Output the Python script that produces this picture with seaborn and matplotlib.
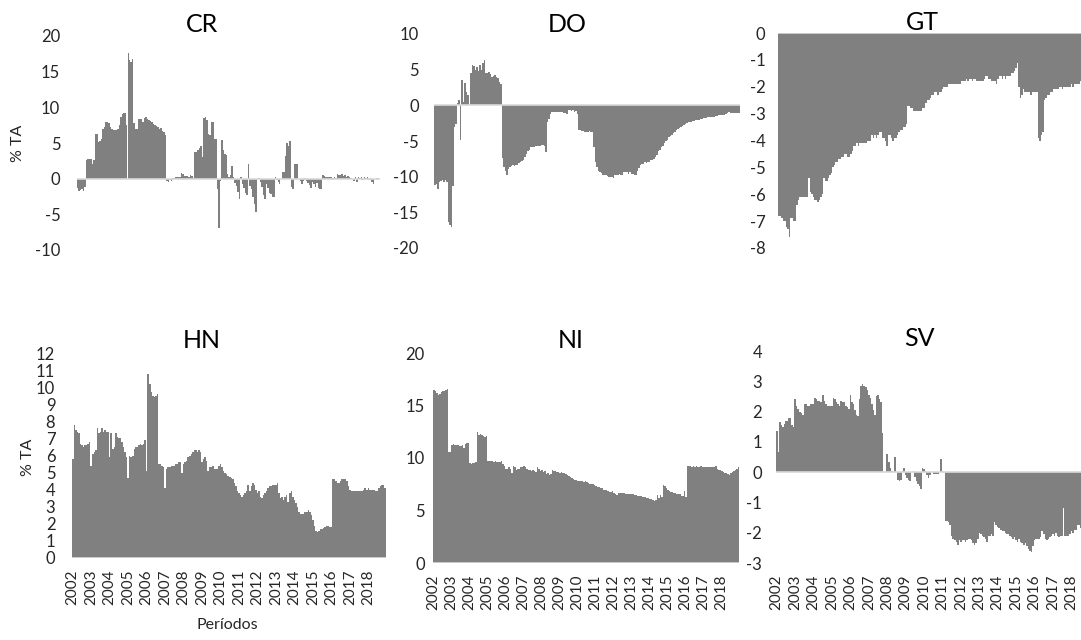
import numpy as np
import matplotlib
matplotlib.use("Agg")
from matplotlib import pyplot as plt
import seaborn as sns

# monthly series 2002m1 - 2018m12, % TA (one row per year)
cr = [-1.3,-1.7,-1.6,-1.5,-1.7,-1.2,2.6,2.8,2.8,2.8,2.0,2.6,
      6.3,6.3,5.2,5.3,5.6,7.0,7.3,8.0,8.0,7.8,7.3,7.0,
      6.8,6.8,6.8,6.9,7.5,8.7,9.1,9.2,9.2,7.5,17.6,16.6,
      16.4,16.8,7.8,7.0,7.0,8.4,8.3,8.3,8.0,8.5,8.6,8.4,
      8.2,8.1,7.9,7.6,7.5,7.4,7.2,7.0,7.1,6.7,6.5,6.1,
      -0.3,-0.4,-0.2,-0.3,0.1,0.1,0.2,0.2,0.2,0.3,0.8,0.6,
      0.4,0.4,0.4,0.3,0.5,0.4,0.1,3.8,3.8,4.0,4.3,4.6,
      3.0,8.5,8.6,8.2,6.3,6.1,8.0,8.0,5.6,5.6,-1.4,-6.9,
      -0.3,5.4,4.0,3.5,3.3,0.7,0.3,0.5,1.8,0.2,-0.6,-1.0,
      -1.8,-2.8,0.2,-0.8,-1.3,-2.0,-2.3,2.1,-1.0,-1.5,-2.5,-3.5,
      -4.7,0.0,0.1,-0.5,-1.2,-2.3,-2.8,-0.8,-1.3,-2.0,-2.2,-2.6,
      -2.5,0.3,-0.2,-0.4,-0.8,0.0,0.9,1.0,3.2,5.0,4.6,5.3,
      -1.2,-1.5,2.1,2.0,2.0,0.0,-0.3,-0.7,-0.3,0.1,-0.3,-0.6,
      -0.9,-1.3,-0.4,-0.8,-1.2,-0.6,-1.3,-1.5,-1.4,0.5,0.4,0.3,
      0.3,0.2,0.3,0.2,0.1,0.2,0.1,0.6,0.5,0.5,0.6,0.4,
      0.5,0.3,0.4,0.2,0.1,0.0,-0.3,0.2,-0.4,0.3,0.1,0.2,
      -0.2,0.2,0.1,0.3,-0.2,0.1,-0.5,-0.8,0.0,0.1,0.1,0.0]

do = [-11.2,-11.0,-11.7,-10.8,-10.6,-10.5,-10.7,-10.5,-10.8,-16.4,-16.8,-17.0,
      -11.3,-3.0,-2.6,0.3,0.7,-4.8,3.6,0.4,3.1,1.8,1.5,0.1,
      4.5,5.7,5.5,5.0,5.4,4.8,5.6,4.9,5.9,6.3,4.5,4.6,
      4.7,4.4,4.0,4.1,4.2,4.0,3.9,3.3,3.0,-7.4,-8.6,-9.2,
      -9.8,-8.9,-8.6,-8.5,-8.4,-8.5,-8.3,-8.4,-8.1,-8.0,-7.8,-7.6,
      -7.2,-6.8,-6.4,-6.2,-5.9,-5.8,-5.8,-5.7,-5.7,-5.7,-5.7,-5.6,
      -5.6,-5.7,-6.5,-2.3,-1.9,-1.2,-1.0,-0.9,-0.9,-1.0,-0.9,-1.0,
      -0.9,-1.0,-1.1,-1.1,-1.2,-0.6,-0.7,-0.8,-0.7,-0.9,-0.8,-1.2,
      -3.4,-3.5,-3.6,-3.6,-3.7,-3.7,-3.8,-3.6,-3.8,-3.7,-5.8,-7.9,
      -8.6,-9.2,-9.4,-9.5,-9.7,-9.8,-9.8,-9.9,-10.0,-10.0,-10.1,-10.2,
      -9.8,-9.7,-9.8,-9.6,-9.7,-9.7,-9.4,-9.3,-9.4,-9.6,-9.3,-9.6,
      -9.6,-9.7,-9.8,-9.2,-8.8,-8.3,-8.2,-8.2,-8.0,-8.1,-8.0,-7.9,
      -7.7,-7.6,-7.5,-7.3,-6.9,-6.4,-6.2,-5.9,-5.7,-5.3,-5.0,-4.8,
      -4.5,-4.3,-4.1,-3.9,-3.7,-3.5,-3.3,-3.2,-3.0,-2.9,-2.8,-2.6,
      -2.5,-2.4,-2.4,-2.3,-2.2,-2.2,-2.1,-2.0,-2.0,-1.9,-1.9,-1.8,
      -1.8,-1.8,-1.7,-1.7,-1.6,-1.6,-1.6,-1.5,-1.5,-1.4,-1.4,-1.4,
      -1.3,-1.3,-1.2,-1.1,-1.0,-1.1,-1.1,-1.1,-1.1,-1.1,-1.1,-1.1]

gt = [-6.8,-6.8,-6.9,-7.0,-7.0,-7.2,-7.3,-7.6,-6.9,-6.9,-7.0,-7.0,
      -6.4,-6.2,-6.1,-6.1,-6.1,-6.1,-6.1,-6.1,-5.4,-5.9,-6.0,-6.1,
      -6.2,-6.2,-6.3,-6.2,-6.1,-6.0,-5.4,-5.5,-5.5,-5.4,-5.3,-5.2,
      -5.0,-4.9,-4.8,-4.8,-4.7,-4.7,-4.6,-4.6,-4.5,-4.5,-4.6,-4.6,
      -4.5,-4.4,-4.2,-4.2,-4.1,-4.2,-4.1,-4.1,-4.1,-4.1,-4.1,-4.0,
      -4.0,-4.0,-3.8,-3.9,-3.8,-3.9,-3.8,-3.7,-3.7,-3.9,-3.9,-4.0,
      -4.2,-3.8,-3.8,-3.9,-4.0,-3.9,-3.9,-3.8,-3.7,-3.6,-3.6,-3.5,
      -3.5,-3.4,-2.7,-2.7,-2.8,-2.8,-2.9,-2.9,-2.9,-2.9,-2.9,-2.9,
      -2.8,-2.8,-2.6,-2.5,-2.5,-2.4,-2.3,-2.3,-2.2,-2.2,-2.3,-2.2,
      -2.2,-2.1,-2.0,-2.0,-2.0,-1.9,-1.9,-1.9,-1.9,-1.9,-1.9,-1.9,
      -1.9,-1.9,-1.8,-1.8,-1.8,-1.7,-1.8,-1.7,-1.7,-1.8,-1.7,-1.7,
      -1.8,-1.8,-1.8,-1.8,-1.8,-1.7,-1.6,-1.6,-1.7,-1.7,-1.8,-1.8,
      -1.8,-1.9,-1.7,-1.6,-1.6,-1.7,-1.6,-1.7,-1.6,-1.6,-1.6,-1.5,
      -1.5,-1.4,-1.3,-1.1,-2.0,-2.4,-2.3,-2.1,-2.2,-2.2,-2.2,-2.2,
      -2.3,-2.2,-2.2,-2.2,-2.2,-3.9,-4.0,-3.8,-3.7,-2.5,-2.4,-2.3,
      -2.3,-2.2,-2.2,-2.1,-2.1,-2.1,-2.1,-2.0,-2.0,-2.1,-2.0,-2.0,
      -2.0,-2.0,-2.0,-1.9,-2.0,-1.9,-1.9,-1.9,-1.9,-1.8,-1.8,-1.8]

hn = [5.8,7.8,7.5,7.4,7.3,6.7,6.6,6.5,6.6,6.6,6.7,6.8,
      5.4,6.1,6.2,6.3,7.6,7.3,7.4,7.6,7.4,7.5,7.4,7.4,
      5.9,7.3,6.4,6.5,7.3,7.1,7.0,7.0,6.8,6.5,6.2,5.9,
      4.7,6.0,5.9,6.0,6.4,6.5,6.5,6.6,6.7,6.6,6.7,6.9,
      5.1,10.8,10.2,9.7,9.5,9.4,9.5,9.6,5.5,5.5,5.4,5.3,
      4.1,5.2,5.3,5.3,5.4,5.4,5.4,5.5,5.5,5.6,5.6,5.0,
      5.5,5.6,5.7,5.9,6.0,6.1,6.2,6.3,6.3,6.2,6.3,6.2,
      5.6,5.8,5.9,5.7,5.1,5.3,5.3,5.4,5.2,5.2,5.2,5.4,
      5.5,5.3,5.1,5.0,4.9,4.8,4.75,4.7,4.6,4.4,4.2,3.9,
      3.8,3.7,3.6,3.7,3.8,3.9,4.3,3.9,4.2,4.4,4.3,4.0,
      3.8,3.9,3.6,3.5,3.7,3.8,3.9,4.1,4.2,4.2,4.3,4.3,
      4.3,4.4,3.8,3.5,3.6,3.4,3.6,3.7,3.3,3.8,3.9,3.6,
      3.4,3.2,3.0,2.7,2.6,2.6,2.6,2.7,2.7,2.8,2.7,2.5,
      2.2,1.9,1.6,1.55,1.6,1.7,1.7,1.75,1.8,1.9,1.85,1.8,
      1.8,4.6,4.6,4.5,4.4,4.4,4.5,4.6,4.6,4.6,4.5,4.2,
      4.0,3.9,3.9,3.9,3.9,3.9,3.9,3.9,3.9,4.0,4.1,4.0,
      4.1,4.0,4.0,4.0,4.0,3.9,3.9,4.1,4.2,4.3,4.3,4.1]

ni = [16.5,16.4,16.2,16.0,16.1,16.3,16.4,16.4,16.5,16.6,10.6,10.6,
      11.2,11.3,11.2,11.2,11.2,11.1,11.1,11.2,11.0,11.3,11.4,11.4,
      9.5,9.4,9.5,9.5,9.6,12.5,12.2,12.3,12.2,12.1,12.0,12.1,
      9.7,9.7,9.7,9.7,9.6,9.7,9.6,9.6,9.6,9.7,9.4,9.2,
      9.0,9.0,9.1,9.0,8.6,9.2,9.1,8.9,9.0,9.0,9.1,9.1,
      9.2,9.1,9.0,8.9,8.9,8.8,8.9,8.8,8.7,9.1,9.0,8.8,
      8.9,8.7,8.8,8.5,8.6,8.4,8.5,8.9,8.8,8.8,8.7,8.7,
      8.6,8.7,8.6,8.6,8.5,8.4,8.3,8.2,8.1,8.0,7.9,7.9,
      7.8,7.8,7.8,7.8,7.7,7.8,7.7,7.6,7.5,7.5,7.5,7.4,
      7.3,7.2,7.2,7.1,7.1,7.0,7.0,7.0,6.9,6.8,6.8,6.9,
      6.7,6.6,6.5,6.7,6.7,6.7,6.7,6.65,6.6,6.6,6.6,6.6,
      6.6,6.55,6.5,6.5,6.4,6.4,6.4,6.3,6.3,6.3,6.2,6.2,
      6.1,6.1,6.0,5.9,6.0,6.5,6.2,6.5,6.3,7.4,7.3,7.1,
      7.0,6.9,6.8,6.8,6.7,6.7,6.6,6.6,6.6,6.4,6.4,6.9,
      6.3,9.2,9.2,9.2,9.1,9.2,9.1,9.2,9.1,9.1,9.2,9.1,
      9.1,9.1,9.1,9.1,9.1,9.1,9.1,9.1,9.2,9.0,8.9,8.9,
      8.8,8.7,8.6,8.6,8.5,8.4,8.6,8.7,8.8,8.9,9.0,9.1]

sv = [1.35,0.65,1.65,1.55,1.5,1.6,1.7,1.7,1.8,1.8,1.55,1.5,
      2.4,2.2,2.1,2.0,1.95,1.9,2.25,2.25,2.2,2.2,2.25,2.25,
      2.25,2.45,2.4,2.35,2.35,2.3,2.55,2.35,2.25,2.2,2.2,2.2,
      2.2,2.45,2.4,2.3,2.25,2.2,2.35,2.3,2.3,2.2,2.15,2.1,
      2.55,2.3,2.25,2.05,1.9,1.85,2.4,2.85,2.9,2.85,2.8,2.7,
      2.55,2.45,2.25,2.05,1.9,2.5,2.55,2.4,2.3,1.3,0.0,0.0,
      0.6,0.35,0.15,0.05,0.0,0.5,0.0,-0.25,-0.3,-0.25,0.05,0.15,
      -0.1,-0.2,-0.25,-0.3,0.0,0.05,-0.15,-0.3,-0.4,-0.45,-0.55,0.15,
      0.1,0.05,-0.1,-0.2,-0.1,0.0,-0.05,-0.05,-0.05,-0.05,0.0,0.45,
      0.05,0.0,-1.6,-1.6,-1.65,-1.75,-2.1,-2.2,-2.25,-2.3,-2.4,-2.25,
      -2.3,-2.25,-2.25,-2.3,-2.25,-2.2,-2.2,-2.25,-2.35,-2.4,-2.35,-2.2,
      -2.0,-2.05,-2.1,-2.15,-2.2,-2.3,-2.1,-2.1,-2.05,-2.1,-1.65,-1.75,
      -1.8,-1.85,-1.9,-1.95,-1.95,-2.0,-2.05,-2.05,-2.1,-2.15,-2.2,-2.15,
      -2.25,-2.3,-2.2,-2.3,-2.35,-2.4,-2.35,-2.45,-2.55,-2.6,-2.65,-2.45,
      -2.25,-2.2,-2.2,-2.2,-2.15,-1.95,-2.05,-2.2,-2.25,-2.2,-2.15,-2.1,
      -2.05,-2.1,-2.0,-2.1,-2.15,-2.1,-2.1,-1.2,-2.1,-2.1,-2.1,-2.05,
      -1.95,-2.0,-1.9,-1.9,-1.75,-1.75,-1.85,-1.9,-1.9,-1.9,-1.9,-1.9]

years = [str(y) for y in range(2002, 2019)]
months = np.arange(len(cr))

sns.set_style('white')
plt.rcParams['font.family'] = ['Lato', 'DejaVu Sans']

W, H = 1081, 640
fig = plt.figure(figsize=(W / 100, H / 100), dpi=100)

GRAY = '#808080'
TXT = '#262626'

# name, values, (left, top, right, bottom) in px, y ticks, y-label pad, title center, bottom row?
panels = [
    ('CR', cr, (77, 36, 380, 250), range(-10, 21, 5), 12, (202, 24), False),
    ('DO', do, (434, 34, 740, 248), range(-20, 11, 5), 11, (567, 24), False),
    ('GT', gt, (778, 33, 1084, 248), range(-8, 1), 9, (922, 22), False),
    ('HN', hn, (72, 353, 386, 558), range(0, 13), 12, (202, 340), True),
    ('NI', ni, (433, 353, 739, 563), range(0, 21, 5), 6, (571, 341), True),
    ('SV', sv, (776, 351, 1089, 563), range(-3, 5), 10, (919, 338), True),
]

for name, vals, (l, t, r, b), yt, pad, (tx, ty), bottom in panels:
    ax = fig.add_axes([l / W, 1 - b / H, (r - l) / W, (b - t) / H])
    sns.barplot(x=months, y=vals, ax=ax, color=GRAY, saturation=1,
                width=1.0, linewidth=0, edgecolor='none')
    ax.axhline(0, color='#d9d9d9', lw=1.2, zorder=3)
    ax.set_xlim(-0.5, len(vals) - 0.5)
    ax.set_ylim(min(yt), max(yt))
    ax.set_yticks(list(yt))
    ax.set_yticklabels([str(v) for v in yt], fontsize=12, color=TXT)
    if bottom:
        ax.set_xticks(range(0, len(vals), 12))
        ax.set_xticklabels(years, rotation=90, fontsize=11, color=TXT)
    else:
        ax.set_xticks([])
    ax.set_xlabel('')
    ax.set_ylabel('')
    ax.tick_params(axis='y', length=0, pad=pad)
    ax.tick_params(axis='x', length=0, pad=8)
    sns.despine(ax=ax, left=True, bottom=True)
    fig.text(tx / W, 1 - ty / H, name, ha='center', va='center', fontsize=18,
             color='black')

fig.text(18 / W, 1 - 143 / H, '% TA', rotation=90, ha='center', va='center',
         fontsize=11.5, color=TXT)
fig.text(28 / W, 1 - 457 / H, '% TA', rotation=90, ha='center', va='center',
         fontsize=11.5, color=TXT)
fig.text(227 / W, 1 - 625 / H, 'Períodos', ha='center', va='center',
         fontsize=11.5, color=TXT)

fig.savefig('out.png', dpi=100)
